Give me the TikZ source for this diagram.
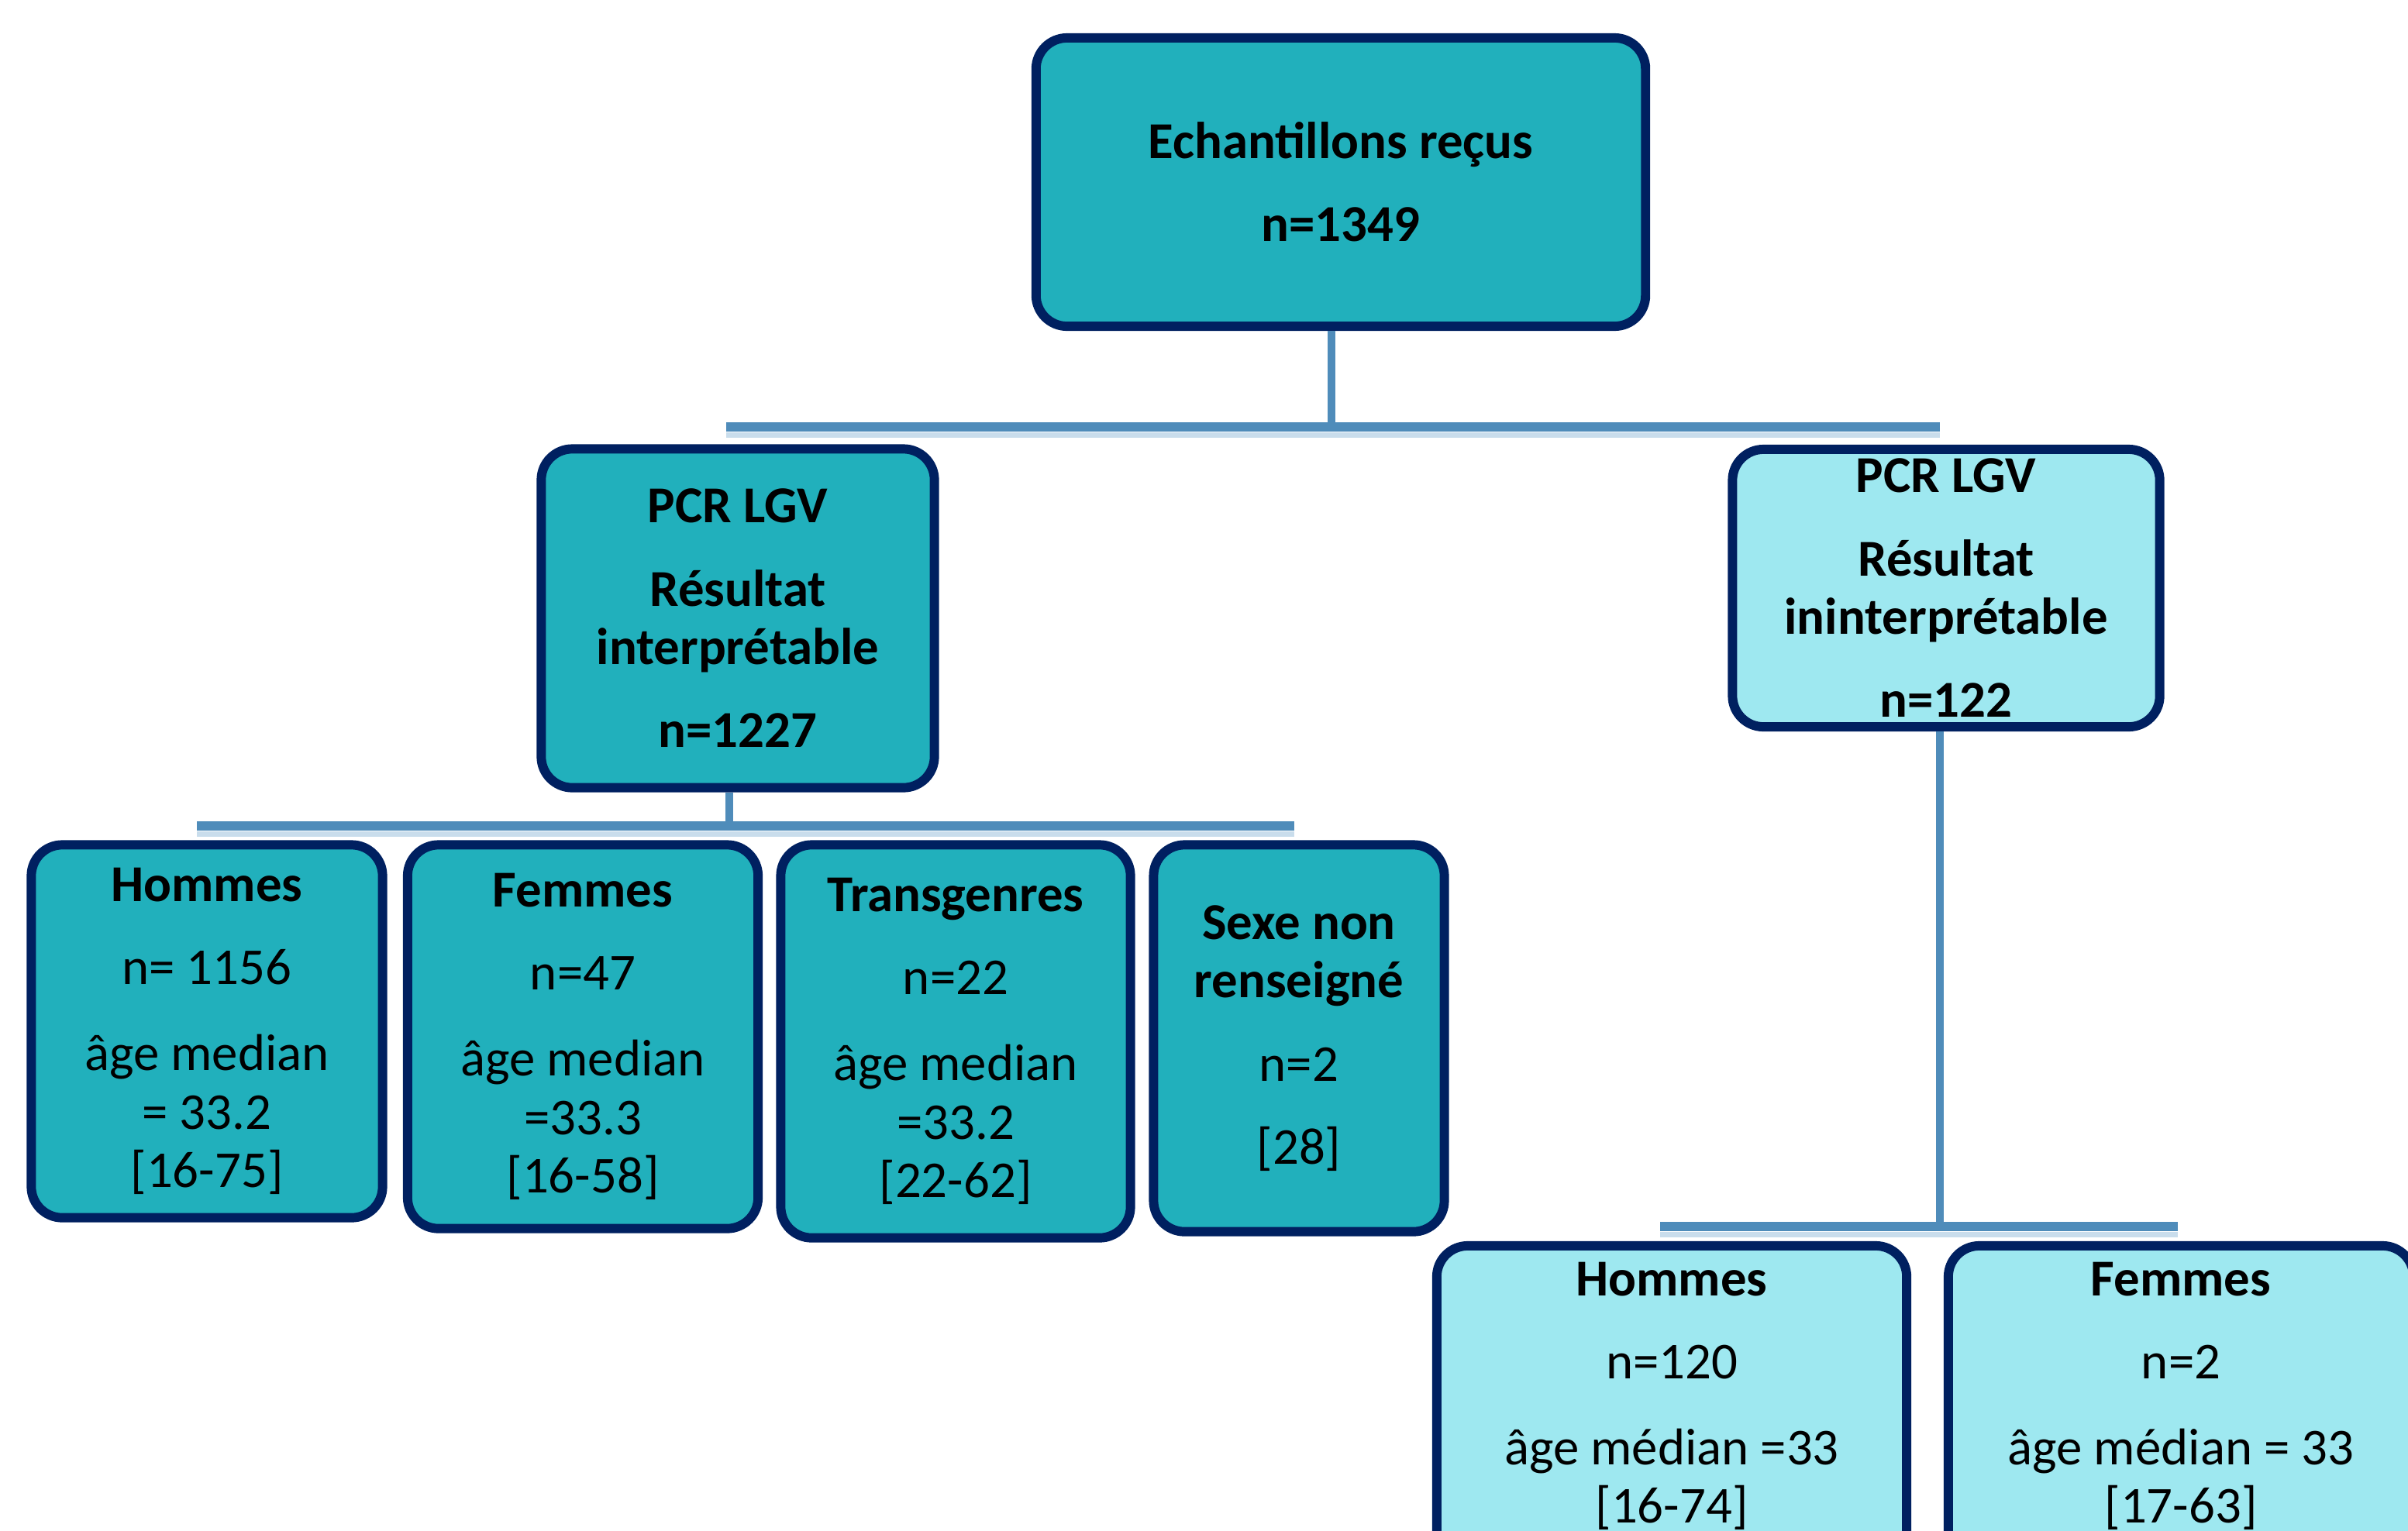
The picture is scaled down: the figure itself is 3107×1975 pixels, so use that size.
\documentclass[tikz,border=0pt]{standalone}
\usepackage{fontspec}
\setmainfont{Carlito}
\usetikzlibrary{calc}
\definecolor{navyc}{HTML}{002060}
\definecolor{tealc}{HTML}{21B0BC}
\definecolor{lightc}{HTML}{9EE8F0}
\definecolor{barc}{HTML}{4F8CBA}
\definecolor{shadc}{HTML}{C9DDEC}
\tikzset{
  box/.style={draw=navyc, line width=3.4pt, rounded corners=0.4cm, align=center, inner sep=0pt,
    font=\fontsize{19}{21.5}\selectfont},
  darkbox/.style={box, fill=tealc},
  lightbox/.style={box, fill=lightc},
  boldtext/.style={font=\fontsize{19}{21.5}\selectfont\bfseries},
  bar/.style={draw=barc, line width=3.4pt},
  barshadow/.style={draw=shadc, line width=2pt},
  stem/.style={draw=barc, line width=2.8pt}
}
\begin{document}
\begin{tikzpicture}[x=0.01cm,y=-0.01cm]
\useasboundingbox (0,0) rectangle (3107,1975);
\clip (0,0) rectangle (3107,1975);
% bar coordinates
\coordinate (b1L) at (937,551);
\coordinate (b1R) at (2503,551);
\coordinate (b2L) at (254,1066);
\coordinate (b2R) at (1670,1066);
\coordinate (b3L) at (2142,1583);
\coordinate (b3R) at (2810,1583);
% boxes
\node[darkbox, boldtext, minimum width=7.86cm, minimum height=3.72cm] (n0) at (1730,235)
  {Echantillons reçus\\[9pt]n=1349};
\node[darkbox, boldtext, minimum width=5.07cm, minimum height=4.37cm] (m1) at (952,798)
  {PCR LGV\\[9pt]Résultat\\interprétable\\[9pt]n=1227};
\node[lightbox, boldtext, minimum width=5.51cm, minimum height=3.58cm] (m2) at (2511,759)
  {PCR LGV\\[9pt]Résultat\\ininterprétable\\[9pt]n=122};
\node[darkbox, minimum width=4.53cm, minimum height=4.81cm] (c1) at (267,1331)
  {\textbf{Hommes}\\[9pt]n= 1156\\[10pt]âge median\\= 33.2\\{[16-75]}};
\node[darkbox, minimum width=4.52cm, minimum height=4.95cm] (c2) at (752,1338)
  {\textbf{Femmes}\\[9pt]n=47\\[10pt]âge median\\=33.3\\{[16-58]}};
\node[darkbox, minimum width=4.51cm, minimum height=5.07cm] (c3) at (1233,1344)
  {\textbf{Transgenres}\\[9pt]n=22\\[10pt]âge median\\=33.2\\{[22-62]}};
\node[darkbox, minimum width=3.75cm, minimum height=4.99cm] (c4) at (1676,1340)
  {\textbf{Sexe non}\\\textbf{renseigné}\\[9pt]n=2\\[9pt]{[28]}};
\node[lightbox, minimum width=6.06cm, minimum height=4.70cm] (d1) at (2157,1843)
  {\textbf{Hommes}\\[9pt]n=120\\[10pt]âge médian =33\\{[16-74]}\\[4.5pt]\mbox{}};
\node[lightbox, minimum width=6.00cm, minimum height=4.70cm] (d2) at (2814,1843)
  {\textbf{Femmes}\\[9pt]n=2\\[10pt]âge médian = 33\\{[17-63]}\\[4.5pt]\mbox{}};
% connectors
\draw[stem] ($(n0.south)+(-12,0)$) -- ($(n0.south |- b1L)+(-12,0)$);
\draw[barshadow] ($(b1L)+(0,10)$) -- ($(b1R)+(0,10)$);
\draw[bar] (b1L) -- (b1R);
\draw[stem] ($(m1.south)+(-11,0)$) -- ($(m1.south |- b2L)+(-11,0)$);
\draw[barshadow] ($(b2L)+(0,10)$) -- ($(b2R)+(0,10)$);
\draw[bar] (b2L) -- (b2R);
\draw[stem] ($(m2.south)+(-8,0)$) -- ($(m2.south |- b3L)+(-8,0)$);
\draw[barshadow] ($(b3L)+(0,10)$) -- ($(b3R)+(0,10)$);
\draw[bar] (b3L) -- (b3R);
\end{tikzpicture}
\end{document}
